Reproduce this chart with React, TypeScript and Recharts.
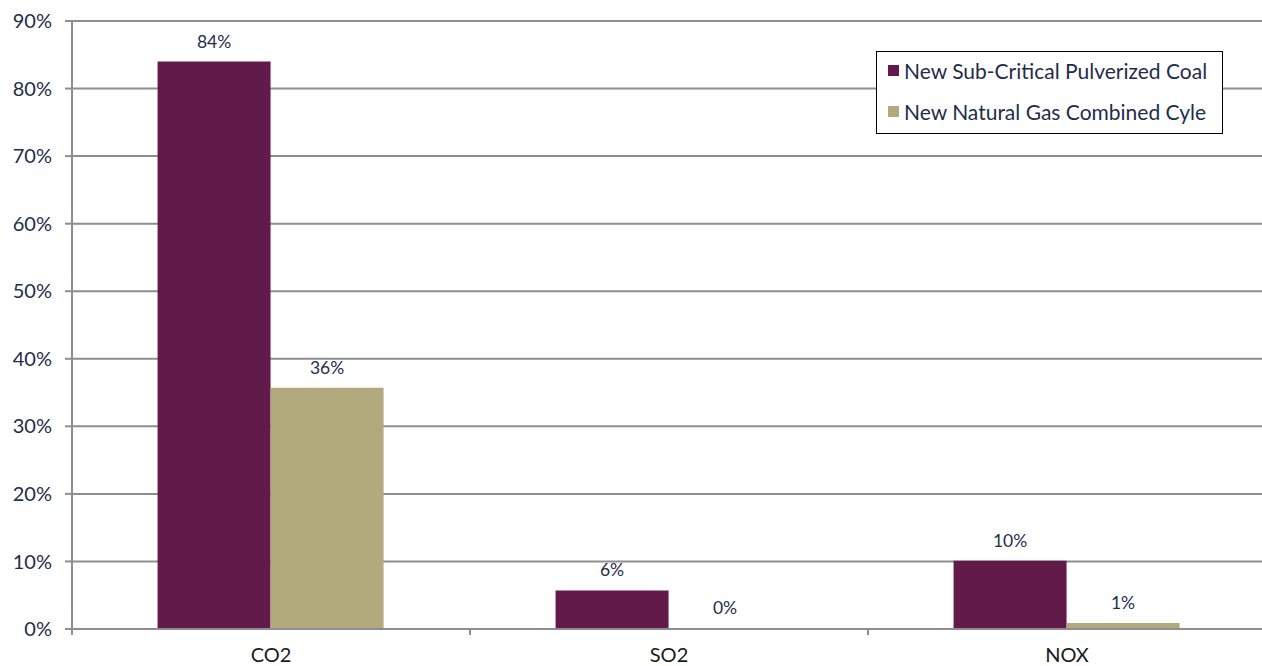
import React from "react";
import {
  BarChart,
  Bar,
  XAxis,
  YAxis,
  CartesianGrid,
  LabelList,
  Cell,
} from "recharts";

const categories = ["CO2", "SO2", "NOX"];
const coalValues = [84, 5.7, 10.1];
const gasValues = [35.7, 0, 0.9];
const yTicks = [0, 10, 20, 30, 40, 50, 60, 70, 80, 90];
const seriesNames = ["New Sub-Critical Pulverized Coal", "New Natural Gas Combined Cyle"];

const COAL = "#621A4B";
const GAS = "#B2A97D";
const GRID = "#8D8D92";
const NAVY = "#1F2D4B";
const FONT = "Lato, 'Open Sans', sans-serif";

const data = categories.map((name, i) => ({
  name,
  coal: coalValues[i],
  gas: gasValues[i],
}));

const XTick = (props: any) => {
  const { x, y, payload } = props;
  const half = payload?.offset ?? 198;
  return (
    <g>
      <line x1={x - half} x2={x - half} y1={y} y2={y + 6} stroke={GRID} strokeWidth={2} />
      <text x={x} y={y + 33} textAnchor="middle" fill="#1a1a1a" fontSize={20} fontFamily={FONT}>
        {payload.value}
      </text>
    </g>
  );
};

// label drawn even when the bar has zero height
const TopLabel = (props: any) => {
  const { x, y, width, value } = props;
  if (value == null) return null;
  return (
    <text
      x={Number(x) + Number(width) / 2}
      y={Number(y) - 14}
      textAnchor="middle"
      fill={NAVY}
      fontSize={17.5}
      fontFamily={FONT}
    >
      {`${Math.round(Number(value))}%`}
    </text>
  );
};

const LegendBox = () => (
  <div
    style={{
      position: "absolute",
      left: 876,
      top: 51,
      width: 347,
      height: 83,
      border: "1.5px solid #000",
      background: "#fff",
      boxSizing: "border-box",
      padding: "0 0 0 11px",
      fontFamily: FONT,
      fontSize: 21,
      color: NAVY,
    }}
  >
    {seriesNames.map((label, i) => (
      <div key={label} style={{ display: "flex", alignItems: "center", height: 36, marginTop: i ? 5 : 0 }}>
        <span
          style={{
            width: 11,
            height: 11,
            background: i ? GAS : COAL,
            marginRight: 5,
            display: "inline-block",
            flex: "none",
          }}
        />
        <span>{label}</span>
      </div>
    ))}
  </div>
);

export default function App() {
  return (
    <div style={{ position: "absolute", left: 0, top: 0, width: 1262, height: 666, background: "#fff", overflow: "hidden" }}>
      <BarChart
        width={1262}
        height={666}
        data={data}
        margin={{ top: 21, right: -4, bottom: 0, left: 0 }}
        barCategoryGap="21.5%"
        barGap={0}
      >
        <CartesianGrid vertical={false} stroke={GRID} strokeWidth={2} />
        <XAxis
          dataKey="name"
          height={37}
          axisLine={{ stroke: GRID, strokeWidth: 2 }}
          tickLine={false}
          tickSize={0}
          tickMargin={0}
          tick={<XTick />}
          interval={0}
        />
        <YAxis
          width={72}
          domain={[0, 90]}
          ticks={yTicks}
          interval={0}
          axisLine={{ stroke: GRID, strokeWidth: 2 }}
          tickLine={{ stroke: GRID, strokeWidth: 2 }}
          tickSize={7}
          tickMargin={13}
          tickFormatter={(v: number) => `${v}%`}
          tick={{ fill: NAVY, fontSize: 20, fontFamily: FONT }}
        />
        <Bar dataKey="coal" name={seriesNames[0]} fill={COAL} isAnimationActive={false}>
          <LabelList dataKey="coal" content={<TopLabel />} />
        </Bar>
        <Bar
          dataKey="gas"
          name={seriesNames[1]}
          fill={GAS}
          minPointSize={(v: number) => (v === 0 ? 1 : 0)}
          isAnimationActive={false}
        >
          {gasValues.map((v, i) => (
            <Cell key={`gas-${i}`} fill={v === 0 ? "transparent" : GAS} />
          ))}
          <LabelList dataKey="gas" content={<TopLabel />} />
        </Bar>
      </BarChart>
      <LegendBox />
    </div>
  );
}
